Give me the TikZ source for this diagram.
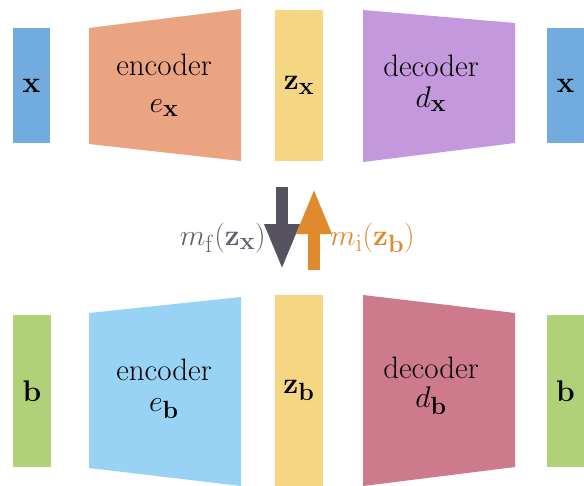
\documentclass[tikz,border=0pt]{standalone}
\usepackage{graphicx}
\usetikzlibrary{arrows.meta}
\definecolor{xblue}{HTML}{72ACDF}
\definecolor{encx}{HTML}{EBA481}
\definecolor{zyel}{HTML}{F5D683}
\definecolor{decx}{HTML}{C398DC}
\definecolor{bgreen}{HTML}{AFD279}
\definecolor{encb}{HTML}{98D2F5}
\definecolor{decb}{HTML}{CD7A8D}
\definecolor{darkarr}{HTML}{57525F}
\definecolor{orarr}{HTML}{E08A2E}
\definecolor{greylbl}{HTML}{646270}
\newcommand{\mbig}[1]{\scalebox{1.2}{$#1$}}
\begin{document}
\begin{tikzpicture}[x=1pt,y=-1pt,
  lbl/.style={font=\fontsize{31}{37}\selectfont, inner sep=0pt, anchor=base},
  mlbl/.style={font=\fontsize{24.88}{30}\selectfont, inner sep=0pt, anchor=base},
  boxnode/.style={rectangle, inner sep=0pt, minimum width=#1, font=\fontsize{24.88}{30}\selectfont},
  blockarr/.style={line width=12pt, -{Triangle[width=32pt,length=46pt]}}]
\useasboundingbox (0,0) rectangle (584,485);
\fill[white] (0,0) rectangle (584,485);
% ---- top row ----
\node[boxnode=37pt, fill=xblue, minimum height=115pt] (xin) at (31.5,85.5) {\mbig{\mathbf{x}}};
\fill[encx] (89,28) -- (241,9) -- (241,161) -- (89,144) -- cycle;
\node[boxnode=48pt, fill=zyel, minimum height=151pt] (zx) at (299,85.5) {\mbig{\mathbf{z}_{\mathbf{x}}}};
\fill[decx] (363,10) -- (515,23) -- (515,143) -- (363,162) -- cycle;
\node[boxnode=37pt, fill=xblue, minimum height=115pt] (xout) at (565.5,85.5) {\mbig{\mathbf{x}}};
\node[lbl] (enct) at (164,75) {encoder};
\node[mlbl] (encm) at (164,112) {\mbig{e_{\mathbf{x}}}};
\node[lbl] (dect) at (431,76) {decoder};
\node[mlbl] (decm) at (431,107) {\mbig{d_{\mathbf{x}}}};
% ---- bottom row ----
\node[boxnode=38pt, fill=bgreen, minimum height=152pt] (bin) at (32,391) {\mbig{\mathbf{b}}};
\fill[encb] (89,313) -- (241,297) -- (241,486) -- (89,468) -- cycle;
\node[boxnode=48pt, fill=zyel, minimum height=191pt] (zb) at (299,390.5) {\mbig{\mathbf{z}_{\mathbf{b}}}};
\fill[decb] (363,295) -- (515,313) -- (515,467) -- (363,486) -- cycle;
\node[boxnode=37pt, fill=bgreen, minimum height=152pt] (bout) at (565.5,391) {\mbig{\mathbf{b}}};
\node[lbl] (encbt) at (164,380) {encoder};
\node[mlbl] (encbm) at (164,411) {\mbig{e_{\mathbf{b}}}};
\node[lbl] (decbt) at (431,378) {decoder};
\node[mlbl] (decbm) at (431,407) {\mbig{d_{\mathbf{b}}}};
% ---- arrows ----
\coordinate (fs) at (282,187);
\coordinate (fe) at (282,270);
\coordinate (is) at (314,270);
\coordinate (ie) at (314,188);
\draw[blockarr, darkarr] (fs) -- (fe);
\draw[blockarr, orarr] (is) -- (ie);
\node[mlbl, anchor=base east, text=greylbl] (mf) at (266,245) {\mbig{m_{\mathrm{f}}(\mathbf{z}_{\mathbf{x}})}};
\node[mlbl, anchor=base west, text=orarr] (mi) at (330,245) {\mbig{m_{\mathrm{i}}(\mathbf{z}_{\mathbf{b}})}};
\end{tikzpicture}
\end{document}
